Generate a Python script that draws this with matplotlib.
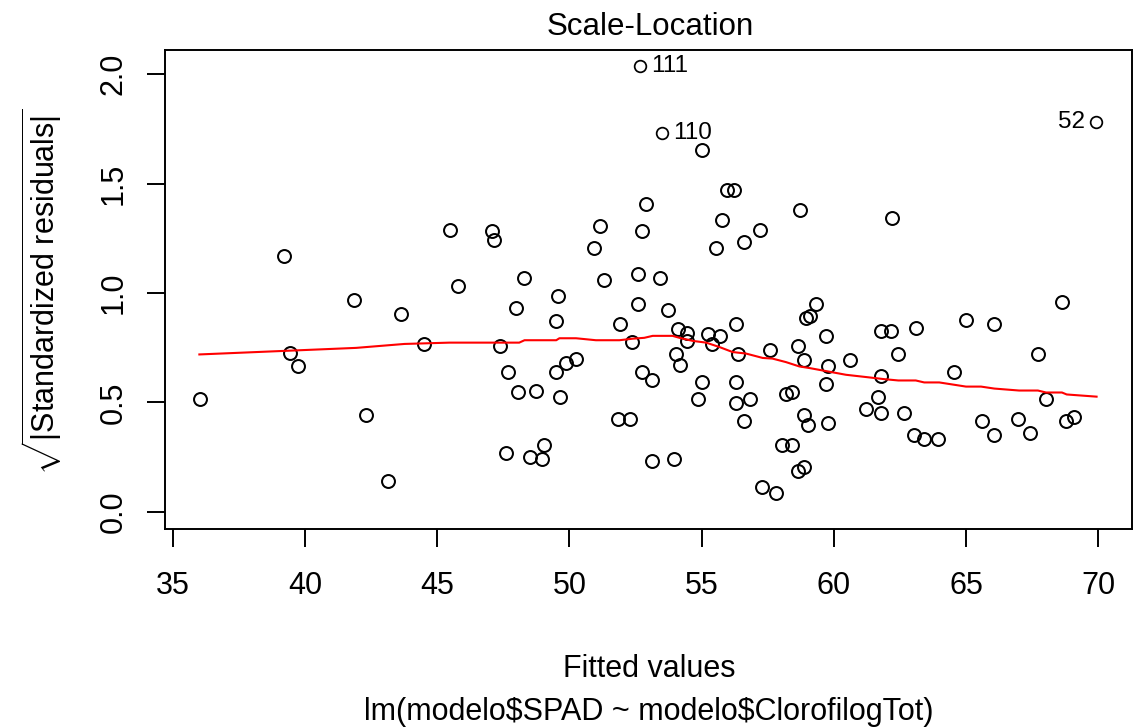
import matplotlib
matplotlib.use("Agg")
import matplotlib.pyplot as plt

plt.rcParams['font.family'] = ['Liberation Sans', 'DejaVu Sans']
plt.rcParams['mathtext.fontset'] = 'custom'
plt.rcParams['mathtext.rm'] = 'Liberation Sans'
plt.rcParams['mathtext.it'] = 'Liberation Sans:italic'

# fitted values / sqrt(|standardized residuals|)
fitted = [39.19, 41.85, 43.62, 39.43, 39.74, 36.03, 42.31, 43.12,
          45.48, 47.07, 47.16, 51.14, 52.75, 52.90, 50.93, 48.28, 45.78, 51.29,
          52.58, 49.57, 47.97, 52.58, 49.48, 51.90, 44.49, 47.37, 52.36, 50.25,
          49.87, 49.48, 47.66, 52.73, 48.04, 48.72, 49.63, 51.84, 52.28, 47.60,
          49.04, 48.51, 48.96,
          52.67, 53.50, 55.01, 55.95, 56.24, 58.72, 55.77, 57.21, 56.60, 55.55,
          53.43, 53.73, 56.30, 54.10, 54.45, 54.43, 55.25, 55.70, 55.38, 54.04,
          54.19, 56.38, 53.12, 55.02, 54.86, 56.30, 56.30, 56.83, 56.60, 53.12,
          53.96, 57.60, 58.65, 58.88, 58.95, 59.10, 59.33, 59.72, 60.61, 59.79,
          59.72, 58.19, 58.43, 58.88, 59.02, 59.79, 58.04, 58.42, 58.65, 58.88,
          57.28, 57.81, 61.80, 61.80, 61.67, 61.22, 61.77,
          69.93, 62.20, 68.63, 62.16, 63.12, 65.00, 66.06, 62.44, 67.72, 64.55,
          62.65, 68.03, 65.61, 66.06, 66.97, 67.43, 68.78, 69.10, 63.03, 63.42,
          63.95]
sqrt_res = [1.169, 0.967, 0.903, 0.727, 0.664, 0.517, 0.442, 0.141,
            1.289, 1.282, 1.242, 1.307, 1.282, 1.407, 1.205, 1.068, 1.032, 1.059,
            1.085, 0.986, 0.931, 0.948, 0.874, 0.856, 0.765, 0.756, 0.774, 0.700,
            0.681, 0.637, 0.637, 0.637, 0.547, 0.554, 0.525, 0.424, 0.424, 0.268,
            0.306, 0.249, 0.240,
            2.040, 1.730, 1.656, 1.473, 1.473, 1.381, 1.335, 1.289, 1.234, 1.206,
            1.070, 0.921, 0.858, 0.834, 0.815, 0.781, 0.811, 0.802, 0.767, 0.723,
            0.673, 0.719, 0.600, 0.591, 0.517, 0.591, 0.499, 0.517, 0.416, 0.232,
            0.242, 0.738, 0.756, 0.692, 0.887, 0.896, 0.949, 0.804, 0.692, 0.664,
            0.582, 0.536, 0.545, 0.444, 0.398, 0.407, 0.306, 0.306, 0.186, 0.205,
            0.113, 0.085, 0.828, 0.620, 0.526, 0.471, 0.453,
            1.783, 1.343, 0.958, 0.828, 0.839, 0.876, 0.857, 0.721, 0.721, 0.637,
            0.453, 0.516, 0.416, 0.352, 0.425, 0.361, 0.416, 0.434, 0.352, 0.334,
            0.334]

# red smoother
smooth_x = [36.0, 41.93, 43.76, 45.46, 48.1, 48.3, 49.5, 49.62, 50.25, 51.0,
            51.89, 52.39, 52.83, 53.15, 53.9, 54.16, 54.66, 55.17, 55.67, 56.17,
            56.68, 57.31, 57.68, 58.19, 58.7, 59.07, 59.7, 60.46, 61.34, 61.91,
            62.44, 63.1, 63.42, 63.99, 65.0, 65.57, 66.07, 67.01, 67.72, 68.03,
            68.63, 68.81, 69.94]
smooth_y = [0.719, 0.749, 0.767, 0.773, 0.773, 0.784, 0.784, 0.793, 0.793, 0.784,
            0.784, 0.791, 0.795, 0.804, 0.804, 0.795, 0.781, 0.773, 0.753, 0.730,
            0.723, 0.703, 0.700, 0.684, 0.664, 0.657, 0.643, 0.626, 0.614, 0.606,
            0.600, 0.600, 0.591, 0.591, 0.572, 0.572, 0.563, 0.554, 0.554, 0.545,
            0.545, 0.536, 0.526]

# labelled points: (index, label, side)
outliers = [(41, '111', 'right'), (42, '110', 'right'), (98, '52', 'left')]
out_idx = [i for i, _, _ in outliers]

W, H = 1134, 727
fig = plt.figure(figsize=(W / 100, H / 100), dpi=100, facecolor='w')
ax = fig.add_axes([165 / W, (H - 529.3) / H, 967 / W, (529.3 - 50) / H])

xs = [v for k, v in enumerate(fitted) if k not in out_idx]
ys = [v for k, v in enumerate(sqrt_res) if k not in out_idx]
ax.plot(xs, ys, linestyle='none', marker='o', ms=9.3,
        mfc='none', mec='black', mew=1.45, clip_on=False)
ax.plot([fitted[i] for i in out_idx], [sqrt_res[i] for i in out_idx],
        linestyle='none', marker='o', ms=8.4, mfc='none', mec='black', mew=1.25)
ax.plot(smooth_x, smooth_y, color='red', lw=1.5)

for i, lab, side in outliers:
    dx = 8 if side == 'right' else -8
    ax.annotate(lab, (fitted[i], sqrt_res[i]), xytext=(dx, 0),
                textcoords='offset points', ha='left' if side == 'right' else 'right',
                va='center', fontsize=17.5)

ax.set_xlim(34.70, 71.28)
ax.set_ylim(-0.0805, 2.111)
ax.set_xticks([35, 40, 45, 50, 55, 60, 65, 70])
ax.set_yticks([0.0, 0.5, 1.0, 1.5, 2.0])
ax.set_yticklabels(['0.0', '0.5', '1.0', '1.5', '2.0'])

for s in ax.spines.values():
    s.set_linewidth(1.4)
ax.tick_params(axis='both', direction='out', length=13, width=1.4, labelsize=22)
ax.tick_params(axis='x', pad=17)
ax.tick_params(axis='y', pad=13, labelrotation=90)
for t in ax.get_yticklabels():
    t.set_va('center')

fig.text(650 / W, 1 - 35 / H, 'Scale-Location', ha='center', va='baseline', fontsize=22.5)
fig.text(649 / W, 1 - 677 / H, 'Fitted values', ha='center', va='baseline', fontsize=22)
fig.text(649 / W, 1 - 720 / H, r'lm(modelo\$SPAD ~ modelo\$ClorofilogTot)',
         ha='center', va='baseline', fontsize=22)
fig.text(42 / W, 1 - 292 / H, r'$\sqrt{|\mathrm{Standardized\ residuals}|}$',
         rotation=90, ha='center', va='center', fontsize=22)

fig.savefig('out.png', dpi=100)
